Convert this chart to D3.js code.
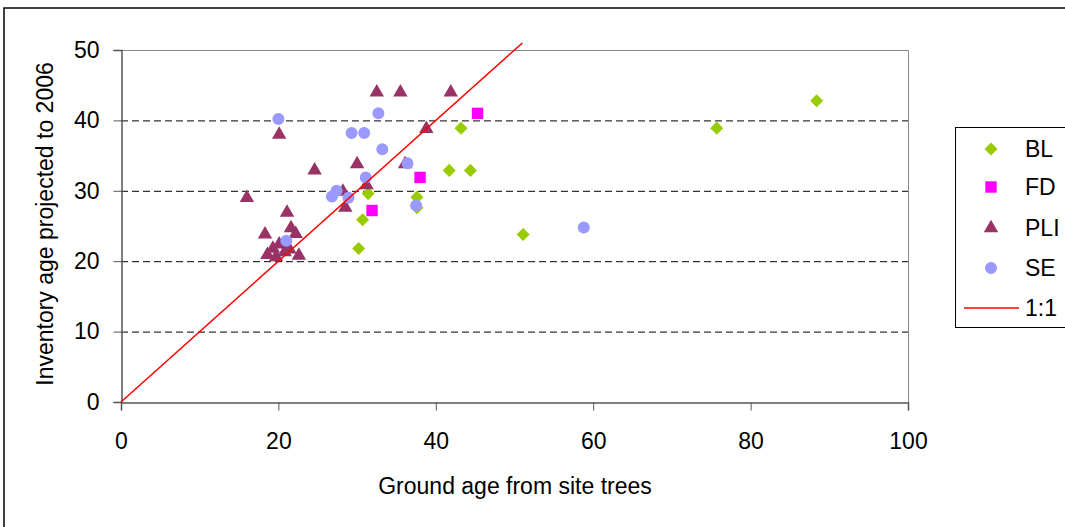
<!DOCTYPE html>
<html lang="en">
<head>
	<meta charset="utf-8">
	<title>ground age vs inventory age</title>
	<script src="https://d3js.org/d3.v7.min.js"></script>
	<style>
		body{ margin:0; background:#fff; }
		text{ font-family:"Liberation Sans", Arial, sans-serif; fill:#000; }
	</style>
</head>
<body>
<div id="chart"></div>
<script>
// data: [ground age, inventory age]
let BL=[[30.2,21.8],[30.7,25.9],[31.4,29.6],[37.6,29.1],[37.6,27.6],[41.7,32.9],[43.2,38.9],[44.4,32.9],[51.1,23.8],[75.7,38.9],[88.4,42.8]];
let FD=[[31.9,27.2],[38.0,31.9],[45.3,41.0]];
let PLI=[[16.0,29.0],[18.3,23.8],[18.6,20.9],[19.3,21.8],[19.7,20.6],[20.1,22.4],[20.8,21.3],[21.4,21.7],[20.1,38.0],[21.1,26.9],[21.6,24.7],[22.2,23.9],[22.6,20.8],[24.6,32.9],[28.2,29.9],[28.5,27.6],[30.0,33.8],[31.2,30.8],[32.5,44],[35.5,44],[36.1,33.8],[38.8,38.8],[41.9,44]];
let SE=[[20.0,40.2],[21.0,22.9],[26.8,29.2],[27.4,30.0],[28.9,29.0],[29.3,38.2],[30.9,38.2],[31.1,31.9],[32.7,41.0],[33.2,35.9],[36.4,33.9],[37.5,27.9],[58.8,24.8]];
let oneToOne=[[0,0],[51,51]];
let xTicks=[0,20,40,60,80,100];
let yTicks=[0,10,20,30,40,50];
let legendNames=["BL","FD","PLI","SE","1:1"];

let W=1065,H=527;
let svg=d3.select("#chart").append("svg").attr("width",W).attr("height",H);

// outer frame
svg.append("rect").attr("x",4).attr("y",8).attr("width",W+10).attr("height",H+10)
	.attr("fill","none").attr("stroke","#000").attr("stroke-width",1.5);

let x=d3.scaleLinear().domain([0,100]).range([121,908]);
let y=d3.scaleLinear().domain([0,50]).range([402,50]);

// grid
svg.selectAll(".grid").data(yTicks.filter(d=>d>0&&d<50)).enter().append("line")
	.attr("x1",x(0)).attr("x2",x(100))
	.attr("y1",d=>y(d)+0.5).attr("y2",d=>y(d)+0.5)
	.attr("stroke","#000").attr("stroke-dasharray","7,4");

// plot frame top/right
svg.append("path").attr("d","M"+x(0)+","+(y(50)+0.5)+"H"+(x(100)+0.5)+"V"+y(0))
	.attr("fill","none").attr("stroke","#888");

// axes
let xa=svg.append("g").attr("transform","translate(0,"+(y(0)+0.5)+")")
	.call(d3.axisBottom(x).tickValues(xTicks).tickSize(8).tickPadding(22));
let ya=svg.append("g").attr("transform","translate("+(x(0)+0.5)+",0)")
	.call(d3.axisLeft(y).tickValues(yTicks).tickSize(8).tickPadding(14));
[xa,ya].forEach(a=>{
	a.select(".domain").attr("stroke","#555").attr("stroke-width",1.5);
	a.selectAll(".tick line").attr("stroke","#555");
	a.selectAll("text").attr("font-size","23px").attr("font-family","Liberation Sans, Arial, sans-serif").attr("fill","#000");
});

svg.append("text").attr("x",515).attr("y",494).attr("text-anchor","middle")
	.attr("font-size","23px").text("Ground age from site trees");
svg.append("text").attr("transform","translate(53,224) rotate(-90)").attr("text-anchor","middle")
	.attr("font-size","23px").text("Inventory age projected to 2006");

// markers
let series=[
	{data:BL,color:"#99CC00",shape:d3.symbolSquare,size:85,rot:45},
	{data:FD,color:"#FF00FF",shape:d3.symbolSquare,size:130,rot:0},
	{data:PLI,color:"#993366",shape:d3.symbolTriangle,size:90,rot:0},
	{data:SE,color:"#9999FF",shape:d3.symbolCircle,size:113,rot:0}
];
series.forEach(s=>{
	svg.append("g").selectAll("path").data(s.data).enter().append("path")
		.attr("d",d3.symbol().type(s.shape).size(s.size))
		.attr("transform",d=>"translate("+x(d[0])+","+y(d[1])+") rotate("+s.rot+")")
		.attr("fill",s.color);
});

// 1:1 line
svg.append("path").datum(oneToOne)
	.attr("d",d3.line().x(d=>x(d[0])).y(d=>y(d[1])))
	.attr("stroke","#FF0000").attr("stroke-width",1.5).attr("fill","none");

// legend
let lg=svg.append("g");
lg.append("rect").attr("x",955.5).attr("y",127.5).attr("width",130).attr("height",200)
	.attr("fill","#fff").attr("stroke","#000");
let ly=[149,187,228,268,308];
legendNames.forEach((n,i)=>{
	if(i<4){
		let s=series[i];
		lg.append("path").attr("d",d3.symbol().type(s.shape).size(s.size))
			.attr("transform","translate(991,"+ly[i]+") rotate("+s.rot+")").attr("fill",s.color);
	}else{
		lg.append("line").attr("x1",964).attr("x2",1019).attr("y1",ly[i]).attr("y2",ly[i])
			.attr("stroke","#FF0000").attr("stroke-width",1.5);
	}
	lg.append("text").attr("x",1025).attr("y",ly[i]).attr("dy","0.35em")
		.attr("font-size","23px").text(n);
});
</script>
</body>
</html>
